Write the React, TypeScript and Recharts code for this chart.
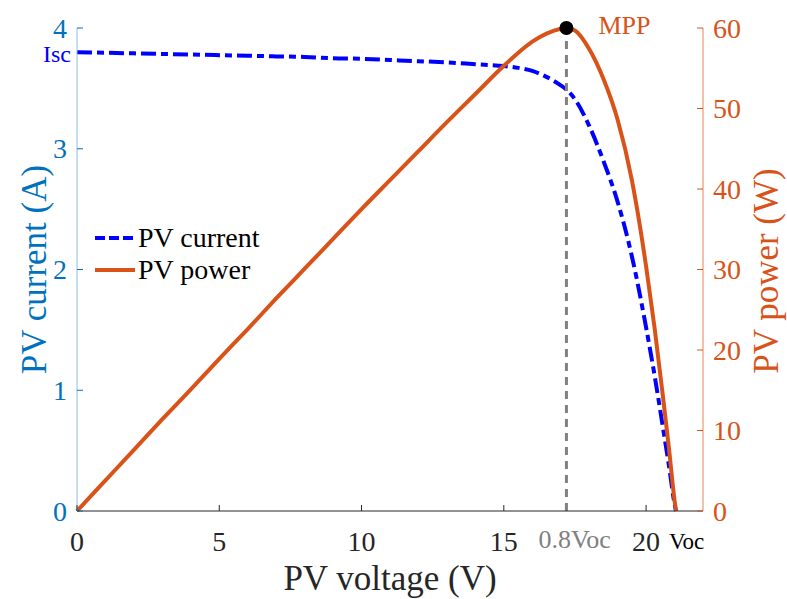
import { Legend, Line, LineChart, ReferenceDot, ReferenceLine, XAxis, YAxis } from "recharts";

// PV voltage (V) sample points
const voltage = [0, 1, 2, 3, 4, 5, 6, 7, 8, 9, 10, 11, 12, 13, 14, 15, 15.5, 16, 16.5, 17, 17.2, 17.5, 18, 18.5, 19, 19.5, 20, 20.3, 20.6, 20.8, 21.0, 21.05];
// PV current (A)
const current = [3.8, 3.795, 3.79, 3.785, 3.78, 3.775, 3.77, 3.765, 3.76, 3.75, 3.745, 3.735, 3.725, 3.715, 3.7, 3.685, 3.67, 3.645, 3.595, 3.525, 3.49, 3.41, 3.19, 2.9, 2.56, 2.11, 1.52, 1.12, 0.68, 0.38, 0.06, 0];
// PV power (W)
const power = [0, 3.8, 7.6, 11.4, 15.1, 18.9, 22.6, 26.4, 30.1, 33.8, 37.5, 41.1, 44.7, 48.3, 51.8, 55.3, 56.9, 58.3, 59.3, 59.9, 60, 59.7, 57.4, 53.7, 48.6, 41.1, 30.4, 22.7, 14.0, 7.9, 1.3, 0];

const voltageTicks = [0, 5, 10, 15, 20];
const currentTicks = [0, 1, 2, 3, 4];
const powerTicks = [0, 10, 20, 30, 40, 50, 60];

const mppVoltage = 17.2;
const mppPower = 60;
const isc = 3.8;
const voc = 21.05;

const data = voltage.map((v, k) => ({ v, i: current[k], p: power[k] }));

const serif = '"Liberation Serif", "Times New Roman", serif';
const BLUE = "#0072BD";
const ORANGE = "#D95319";
const DASH_DOT = "15 5 7 5";

function VoltageTick({ x, y, payload }: any) {
  const v = payload.value;
  if (v === mppVoltage) {
    return (
      <text x={x - 28} y={y + 37} fill="#808080" fontSize={26} fontFamily={serif}>
        0.8Voc
      </text>
    );
  }
  if (v === voc) {
    return (
      <text x={x - 7} y={y + 38} fill="#000" fontSize={23} fontFamily={serif}>
        Voc
      </text>
    );
  }
  return (
    <g>
      <line x1={x} x2={x} y1={y} y2={y - 6} stroke="#262626" />
      <text x={x} y={y + 40} textAnchor="middle" fill="#262626" fontSize={28} fontFamily={serif}>
        {v}
      </text>
    </g>
  );
}

function CurrentTick({ x, y, payload }: any) {
  const v = payload.value;
  if (v === isc) {
    return (
      <text x={x - 6} y={y + 10} textAnchor="end" fill="#0000FF" fontSize={24} fontFamily={serif}>
        Isc
      </text>
    );
  }
  return (
    <g>
      <line x1={x} x2={x + 6} y1={y} y2={y} stroke={BLUE} />
      <text x={x - 10} y={y + 9.5} textAnchor="end" fill={BLUE} fontSize={28} fontFamily={serif}>
        {v}
      </text>
    </g>
  );
}

function PowerTick({ x, y, payload }: any) {
  return (
    <g>
      <line x1={x} x2={x - 6} y1={y} y2={y} stroke={ORANGE} />
      <text x={x + 10} y={y + 9.5} textAnchor="start" fill={ORANGE} fontSize={28} fontFamily={serif}>
        {payload.value}
      </text>
    </g>
  );
}

function PVLegend() {
  const items = [
    { name: "PV current", color: "#0000FF", dash: "10 4" },
    { name: "PV power", color: ORANGE, dash: undefined },
  ];
  return (
    <div style={{ fontFamily: serif, fontSize: 28, color: "#000", lineHeight: "32px" }}>
      {items.map((it) => (
        <div key={it.name} style={{ display: "flex", alignItems: "center", height: 32 }}>
          <svg width={42} height={10} style={{ marginRight: 2 }}>
            <line x1={1} x2={41} y1={5} y2={5} stroke={it.color} strokeWidth={4} strokeDasharray={it.dash} />
          </svg>
          <span>{it.name}</span>
        </div>
      ))}
    </div>
  );
}

export default function App() {
  return (
    <div style={{ position: "absolute", left: 0, top: 0, background: "#fff" }}>
      <LineChart width={787} height={599} data={data} margin={{ top: 28, right: 0, bottom: 0, left: 0 }}>
        <XAxis
          dataKey="v"
          type="number"
          domain={[0, 22]}
          ticks={[...voltageTicks, mppVoltage, voc]}
          interval={0}
          height={88}
          tickSize={0}
          tickMargin={0}
          tickLine={false}
          axisLine={{ stroke: "#262626" }}
          tick={<VoltageTick />}
          label={{
            content: () => (
              <text x={390} y={590} textAnchor="middle" fill="#262626" fontSize={35} fontFamily={serif}>
                PV voltage (V)
              </text>
            ),
          }}
        />
        <YAxis
          yAxisId="i"
          orientation="left"
          domain={[0, 4]}
          ticks={[...currentTicks, isc]}
          interval={0}
          width={77}
          tickSize={0}
          tickMargin={0}
          tickLine={false}
          axisLine={{ stroke: "#8cc0e3" }}
          tick={<CurrentTick />}
          label={{
            content: () => (
              <text
                x={46}
                y={269.5}
                transform="rotate(-90 46 269.5)"
                textAnchor="middle"
                fill={BLUE}
                fontSize={35}
                fontFamily={serif}
              >
                PV current (A)
              </text>
            ),
          }}
        />
        <YAxis
          yAxisId="p"
          orientation="right"
          domain={[0, 60]}
          ticks={powerTicks}
          interval={0}
          width={84}
          tickSize={0}
          tickMargin={0}
          tickLine={false}
          axisLine={{ stroke: "#e2845a" }}
          tick={<PowerTick />}
          label={{
            content: () => (
              <text
                x={778}
                y={271}
                transform="rotate(-90 778 271)"
                textAnchor="middle"
                fill={ORANGE}
                fontSize={35}
                fontFamily={serif}
              >
                PV power (W)
              </text>
            ),
          }}
        />
        <Legend verticalAlign="middle" align="center" layout="horizontal" content={<PVLegend />} wrapperStyle={{ left: 94, top: 222, width: 220 }} />
        <Line
          yAxisId="i"
          type="monotone"
          dataKey="i"
          name="PV current"
          stroke="#0000FF"
          strokeWidth={4}
          strokeDasharray={DASH_DOT}
          dot={false}
          isAnimationActive={false}
        />
        <Line
          yAxisId="p"
          type="monotone"
          dataKey="p"
          name="PV power"
          stroke={ORANGE}
          strokeWidth={4}
          dot={false}
          isAnimationActive={false}
        />
        <ReferenceDot
          yAxisId="p"
          x={mppVoltage}
          y={mppPower}
          r={7}
          fill="#000"
          stroke="none"
          ifOverflow="visible"
          label={{
            content: ({ viewBox }: any) => (
              <text x={viewBox.x + viewBox.width / 2 + 32} y={viewBox.y + viewBox.height / 2 + 6} fill={ORANGE} fontSize={26} fontFamily={serif}>
                MPP
              </text>
            ),
          }}
        />
        <ReferenceLine yAxisId="p" x={mppVoltage} stroke="#808080" strokeWidth={3} strokeDasharray="8 6" />
      </LineChart>
    </div>
  );
}
